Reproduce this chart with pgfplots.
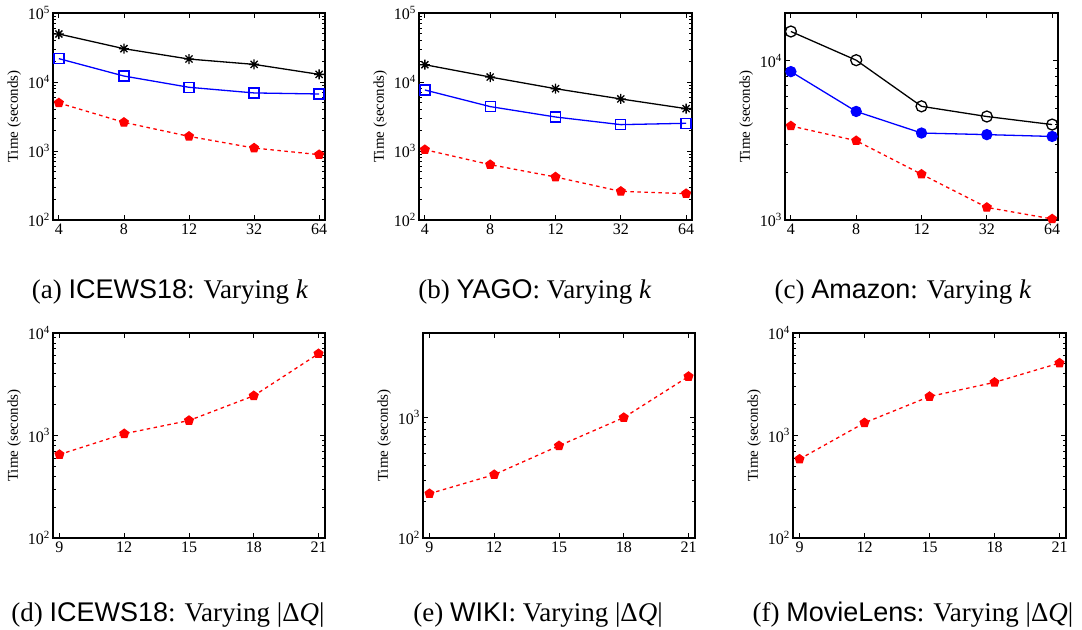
\documentclass[border=0pt]{standalone}
\usepackage{fontspec}
\setmainfont{Liberation Serif}
\newfontfamily\hv{Liberation Sans}
\usepackage{pgfplots}
\pgfplotsset{compat=1.18}
\pgfdeclareplotmark{plusx}{%
  \pgfpathmoveto{\pgfqpoint{-\pgfplotmarksize}{0pt}}%
  \pgfpathlineto{\pgfqpoint{\pgfplotmarksize}{0pt}}%
  \pgfpathmoveto{\pgfqpoint{0pt}{-\pgfplotmarksize}}%
  \pgfpathlineto{\pgfqpoint{0pt}{\pgfplotmarksize}}%
  \pgfpathmoveto{\pgfqpoint{-0.707\pgfplotmarksize}{-0.707\pgfplotmarksize}}%
  \pgfpathlineto{\pgfqpoint{0.707\pgfplotmarksize}{0.707\pgfplotmarksize}}%
  \pgfpathmoveto{\pgfqpoint{-0.707\pgfplotmarksize}{0.707\pgfplotmarksize}}%
  \pgfpathlineto{\pgfqpoint{0.707\pgfplotmarksize}{-0.707\pgfplotmarksize}}%
  \pgfusepathqstroke}
\newcommand{\tf}{\fontsize{16bp}{19bp}\selectfont}
\newcommand{\e}[1]{{\tf 10\raisebox{0.42em}{\fontsize{11bp}{12bp}\selectfont #1}}}
\pgfplotsset{
  every axis/.append style={scale only axis, anchor=south west,
    width=272bp, height=207bp,
    axis line style={line width=1.1pt},
    tick align=inside, major tick length=5bp, minor tick length=3bp,
    every tick/.append style={black, line width=0.8pt},
    ylabel={\fontsize{15bp}{17bp}\selectfont Time (seconds)},
    clip=false},
}
\tikzset{
  blk/.style={black, line width=1.3pt, mark=plusx, mark size=5bp, mark options={solid, line width=1.3pt}},
  blu/.style={blue, line width=1.3pt, mark=square, mark size=5bp, mark options={solid, line width=1.3pt}},
  rd/.style={red, line width=1.3pt, dash pattern=on 3.5bp off 3.5bp, mark=pentagon*, mark size=4.5bp, mark options={solid}},
}
\newcommand{\capfont}{\fontsize{27bp}{32bp}\selectfont}
\begin{document}
\begin{tikzpicture}
\useasboundingbox (0,0) rectangle (1082bp,630bp);
% (a)
\begin{semilogyaxis}[at={(53bp,410bp)}, xmin=-0.09, xmax=4.09, xtick={0,1,2,3,4}, xticklabels={\tf 4,\tf 8,\tf 12,\tf 32,\tf 64},
  ymin=100, ymax=100000,
  ytick={100,1000,10000,100000}, yticklabels={\e{2},\e{3},\e{4},\e{5}}]
\addplot[blk] coordinates {(0,49600) (1,30400) (2,21500) (3,18000) (4,12900)};
\addplot[blu] coordinates {(0,21800) (1,12200) (2,8380) (3,6940) (4,6700)};
\addplot[rd] coordinates {(0,4970) (1,2600) (2,1630) (3,1104) (4,885)};
\end{semilogyaxis}
% (b)
\begin{semilogyaxis}[at={(419bp,410bp)}, width=273bp, xmin=-0.09, xmax=4.09, xtick={0,1,2,3,4}, xticklabels={\tf 4,\tf 8,\tf 12,\tf 32,\tf 64},
  ymin=100, ymax=100000,
  ytick={100,1000,10000,100000}, yticklabels={\e{2},\e{3},\e{4},\e{5}}]
\addplot[blk] coordinates {(0,17800) (1,11800) (2,8000) (3,5680) (4,4110)};
\addplot[blu] coordinates {(0,7660) (1,4400) (2,3110) (3,2410) (4,2520)};
\addplot[rd] coordinates {(0,1045) (1,634) (2,420) (3,260) (4,241)};
\end{semilogyaxis}
% (c)
\begin{semilogyaxis}[at={(785bp,410bp)}, width=273bp, xmin=-0.09, xmax=4.09, xtick={0,1,2,3,4}, xticklabels={\tf 4,\tf 8,\tf 12,\tf 32,\tf 64},
  ymin=1000, ymax=20000,
  ytick={1000,10000}, yticklabels={\e{3},\e{4}}]
\addplot[black, line width=1.3pt, mark=o, mark size=5.5bp, mark options={line width=1.3pt}] coordinates {(0,15300) (1,10100) (2,5180) (3,4470) (4,3980)};
\addplot[blue, line width=1.3pt, mark=*, mark size=5bp] coordinates {(0,8560) (1,4810) (2,3520) (3,3440) (4,3350)};
\addplot[rd] coordinates {(0,3900) (1,3150) (2,1940) (3,1200) (4,1015)};
\end{semilogyaxis}
% (d)
\begin{semilogyaxis}[at={(53bp,92bp)}, height=205bp, xmin=8.7, xmax=21.3, xtick={9,12,15,18,21}, xticklabels={\tf 9,\tf 12,\tf 15,\tf 18,\tf 21},
  ymin=100, ymax=10000,
  ytick={100,1000,10000}, yticklabels={\e{2},\e{3},\e{4}}]
\addplot[rd] coordinates {(9,652) (12,1040) (15,1400) (18,2440) (21,6280)};
\end{semilogyaxis}
% (e)
\begin{semilogyaxis}[at={(423bp,92bp)}, height=205bp, xmin=8.7, xmax=21.3, xtick={9,12,15,18,21}, xticklabels={\tf 9,\tf 12,\tf 15,\tf 18,\tf 21},
  ymin=100, ymax=5000,
  ytick={100,1000}, yticklabels={\e{2},\e{3}}]
\addplot[rd] coordinates {(9,233) (12,335) (15,581) (18,995) (21,2180)};
\end{semilogyaxis}
% (f)
\begin{semilogyaxis}[at={(793bp,92bp)}, width=273bp, height=205bp, xmin=8.7, xmax=21.3, xtick={9,12,15,18,21}, xticklabels={\tf 9,\tf 12,\tf 15,\tf 18,\tf 21},
  ymin=100, ymax=10000,
  ytick={100,1000,10000}, yticklabels={\e{2},\e{3},\e{4}}]
\addplot[rd] coordinates {(9,588) (12,1330) (15,2400) (18,3300) (21,5090)};
\end{semilogyaxis}
% captions
\node[anchor=base, font=\capfont] at (170bp,331bp) {(a) {\hv ICEWS18}: Varying \textit{k}};
\node[anchor=base, font=\capfont] at (535bp,331bp) {(b) {\hv YAGO}: Varying \textit{k}};
\node[anchor=base, font=\capfont] at (903bp,331bp) {(c) {\hv Amazon}: Varying \textit{k}};
\node[anchor=base, font=\capfont] at (168bp,9bp) {(d) {\hv ICEWS18}: Varying |Δ\textit{Q}|};
\node[anchor=base, font=\capfont] at (538bp,9bp) {(e) {\hv WIKI}: Varying |Δ\textit{Q}|};
\node[anchor=base, font=\capfont] at (913bp,9bp) {(f) {\hv MovieLens}: Varying |Δ\textit{Q}|};
\end{tikzpicture}
\end{document}
